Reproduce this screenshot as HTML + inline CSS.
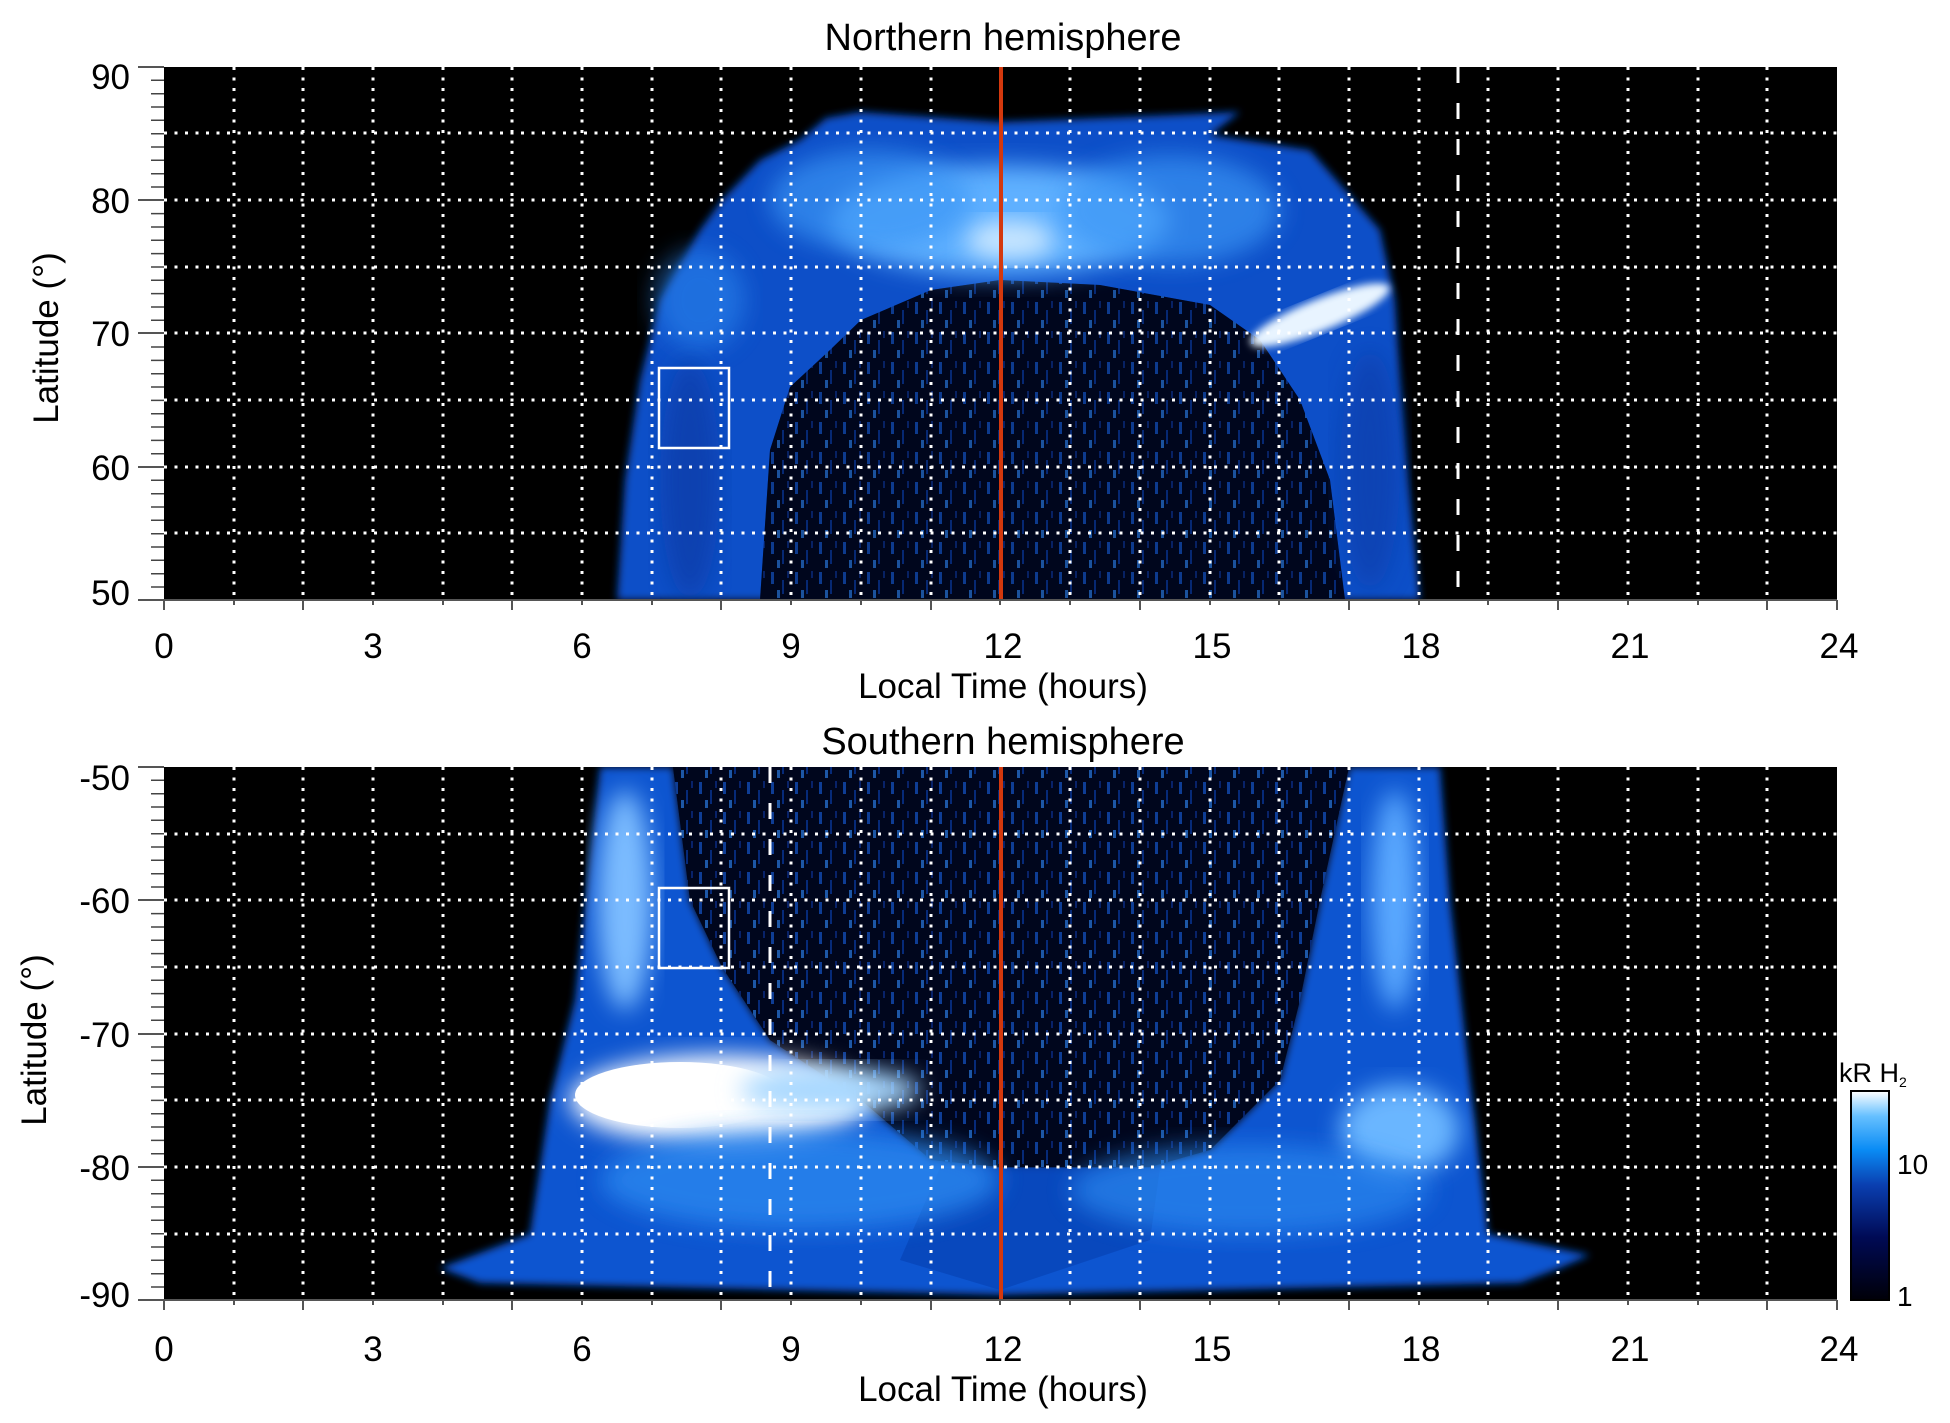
<!DOCTYPE html>
<html><head><meta charset="utf-8"><style>
html,body{margin:0;padding:0;background:#fff}
svg{display:block}
text{font-family:"Liberation Sans",Arial,sans-serif;fill:#000}
</style></head><body>
<svg width="1950" height="1423" viewBox="0 0 1950 1423" xmlns="http://www.w3.org/2000/svg">
<defs>
<filter id="b4" x="-10%" y="-10%" width="120%" height="120%"><feGaussianBlur stdDeviation="4"/></filter>
<filter id="b10" x="-20%" y="-20%" width="140%" height="140%"><feGaussianBlur stdDeviation="12"/></filter>
<linearGradient id="cb" x1="0" y1="1" x2="0" y2="0">
<stop offset="0" stop-color="#000008"/><stop offset="0.3" stop-color="#000a55"/>
<stop offset="0.55" stop-color="#0a3fb0"/><stop offset="0.72" stop-color="#0a8cf5"/>
<stop offset="0.88" stop-color="#66c0ff"/><stop offset="1" stop-color="#ffffff"/>
</linearGradient>
<pattern id="spk" width="24" height="30" patternUnits="userSpaceOnUse">
<rect width="24" height="30" fill="#01061c"/>
<rect x="3" y="2" width="3" height="12" fill="#1555c8"/>
<rect x="14" y="10" width="2" height="14" fill="#0a3aa0"/>
<rect x="9" y="20" width="3" height="8" fill="#2a7ae0"/>
<rect x="19" y="1" width="2" height="7" fill="#0c2f88"/>
</pattern>
</defs>

<!-- ===== TOP PANEL ===== -->
<rect x="164" y="67" width="1673" height="533" fill="#000"/>
<g clip-path="url(#c1)">
<clipPath id="c1"><rect x="164" y="67" width="1673" height="533"/></clipPath>
<path d="M617,600 L625,480 L640,380 L660,300 L700,230 L722,200 L760,160 L800,140 L826,118 L860,112 L1000,122 L1150,116 L1240,112 L1210,135 L1310,150 L1380,230 L1395,300 L1400,380 L1408,480 L1420,600 Z" fill="#0a4fc8" filter="url(#b4)"/>
<path d="M760,600 L770,450 L790,387 L830,350 L861,320 L931,290 L1000,280 L1100,285 L1210,305 L1260,340 L1300,400 L1330,480 L1345,600 Z" fill="url(#spk)"/>
<path d="M760,600 L770,450 L790,387 L830,350 L861,320 L931,290 L1000,280 L1100,285 L1210,305 L1260,340 L1300,400 L1330,480 L1345,600 Z" fill="#000820" opacity="0.35"/>
<ellipse cx="1000" cy="220" rx="170" ry="55" fill="#5fb0ff" filter="url(#b10)"/>
<ellipse cx="1010" cy="240" rx="45" ry="20" fill="#c8e6ff" filter="url(#b10)"/>
<ellipse cx="1320" cy="315" rx="75" ry="16" fill="#e8f4ff" transform="rotate(-22 1320 315)" filter="url(#b4)"/>
<ellipse cx="870" cy="200" rx="100" ry="50" fill="#3a95f5" opacity="0.7" filter="url(#b10)"/>
<ellipse cx="1170" cy="210" rx="110" ry="55" fill="#3a95f5" opacity="0.7" filter="url(#b10)"/>
<ellipse cx="700" cy="300" rx="45" ry="50" fill="#2a85ee" opacity="0.6" filter="url(#b10)"/>
<ellipse cx="690" cy="480" rx="30" ry="120" fill="#0838a0" opacity="0.6" filter="url(#b10)"/>
<ellipse cx="1370" cy="470" rx="30" ry="120" fill="#0838a0" opacity="0.5" filter="url(#b10)"/>
</g>
<g stroke="#fff" stroke-width="3" stroke-dasharray="3,7.5" fill="none">
<path d="M164,133H1837M164,200H1837M164,267H1837M164,333H1837M164,400H1837M164,467H1837M164,533H1837"/>
<path d="M234,67V600M303,67V600M373,67V600M443,67V600M512,67V600M582,67V600M652,67V600M721,67V600M791,67V600M861,67V600M931,67V600M1070,67V600M1140,67V600M1210,67V600M1279,67V600M1349,67V600M1419,67V600M1488,67V600M1558,67V600M1628,67V600M1698,67V600M1767,67V600"/>
</g>
<line x1="1458" y1="67" x2="1458" y2="600" stroke="#fff" stroke-width="3" stroke-dasharray="16,20"/>
<line x1="1001" y1="67" x2="1001" y2="600" stroke="#d4380d" stroke-width="4"/>
<rect x="659" y="368" width="70" height="80" fill="none" stroke="#fff" stroke-width="2.5"/>

<!-- ===== BOTTOM PANEL ===== -->
<rect x="164" y="767" width="1673" height="533" fill="#000"/>
<g clip-path="url(#c2)">
<clipPath id="c2"><rect x="164" y="767" width="1673" height="533"/></clipPath>
<path d="M600,767 L673,767 L690,900 L722,967 L770,1040 L861,1100 L931,1160 L1000,1167 L1150,1167 L1210,1150 L1280,1080 L1300,1000 L1320,900 L1349,767 L1440,767 L1450,900 L1470,1080 L1488,1234 L1590,1255 L1560,1268 L1520,1283 L1000,1295 L480,1283 L440,1268 L530,1234 L550,1100 L575,1000 Z" fill="#0a55d0" filter="url(#b4)"/>
<path d="M673,767 L1349,767 L1320,900 L1300,1000 L1280,1080 L1210,1150 L1150,1167 L1000,1167 L931,1160 L861,1100 L770,1040 L722,967 L690,900 Z" fill="url(#spk)"/>
<path d="M673,767 L1349,767 L1320,900 L1300,1000 L1280,1080 L1210,1150 L1150,1167 L1000,1167 L931,1160 L861,1100 L770,1040 L722,967 L690,900 Z" fill="#000820" opacity="0.3"/>
<path d="M940,1168 L1160,1168 L1150,1240 L1000,1290 L900,1260 Z" fill="#0845b8" opacity="0.8"/>
<ellipse cx="720" cy="1100" rx="150" ry="45" fill="#ffffff" filter="url(#b10)"/>
<ellipse cx="680" cy="1095" rx="105" ry="33" fill="#ffffff"/>
<ellipse cx="830" cy="1090" rx="90" ry="22" fill="#a8d8ff" filter="url(#b10)"/>
<ellipse cx="625" cy="900" rx="28" ry="110" fill="#7bbcff" filter="url(#b10)"/>
<ellipse cx="1400" cy="1130" rx="60" ry="45" fill="#6ab6ff" filter="url(#b10)"/>
<ellipse cx="1395" cy="900" rx="24" ry="110" fill="#5aa8ff" filter="url(#b10)"/>
<ellipse cx="800" cy="1180" rx="200" ry="50" fill="#2a88f0" opacity="0.8" filter="url(#b10)"/>
<ellipse cx="1250" cy="1190" rx="180" ry="45" fill="#2a88f0" opacity="0.7" filter="url(#b10)"/>
</g>
<g stroke="#fff" stroke-width="3" stroke-dasharray="3,7.5" fill="none">
<path d="M164,834H1837M164,900H1837M164,967H1837M164,1034H1837M164,1100H1837M164,1167H1837M164,1234H1837"/>
<path d="M234,767V1300M303,767V1300M373,767V1300M443,767V1300M512,767V1300M582,767V1300M652,767V1300M721,767V1300M791,767V1300M861,767V1300M931,767V1300M1070,767V1300M1140,767V1300M1210,767V1300M1279,767V1300M1349,767V1300M1419,767V1300M1488,767V1300M1558,767V1300M1628,767V1300M1698,767V1300M1767,767V1300"/>
</g>
<line x1="770" y1="767" x2="770" y2="1300" stroke="#fff" stroke-width="3" stroke-dasharray="16,20"/>
<line x1="1001" y1="767" x2="1001" y2="1300" stroke="#d4380d" stroke-width="4"/>
<rect x="659" y="888" width="70" height="80" fill="none" stroke="#fff" stroke-width="2.5"/>

<!-- axes & ticks -->
<g stroke="#555" stroke-width="2">
<line x1="138" y1="67" x2="164" y2="67"/><line x1="138" y1="200" x2="164" y2="200"/><line x1="138" y1="333" x2="164" y2="333"/><line x1="138" y1="467" x2="164" y2="467"/><line x1="138" y1="600" x2="164" y2="600"/>
<line x1="138" y1="767" x2="164" y2="767"/><line x1="138" y1="900" x2="164" y2="900"/><line x1="138" y1="1034" x2="164" y2="1034"/><line x1="138" y1="1167" x2="164" y2="1167"/><line x1="138" y1="1300" x2="164" y2="1300"/>
<line x1="164" y1="600" x2="1837" y2="600"/><line x1="164" y1="1300" x2="1837" y2="1300"/>
</g>
<g stroke="#444" stroke-width="1.5">
<path id="mt" d="M151,80.3h13M151,93.7h13M151,107h13M151,120.3h13M151,133.7h13M151,147h13M151,160.3h13M151,173.7h13M151,187h13"/>
<use href="#mt" y="133.3"/><use href="#mt" y="266.7"/><use href="#mt" y="400"/>
<use href="#mt" y="700"/><use href="#mt" y="833.3"/><use href="#mt" y="966.7"/><use href="#mt" y="1100"/>
</g>
<g stroke="#555" stroke-width="2">
<path id="xt" d="M164,600v10M234,600v5M303,600v10M373,600v5M443,600v5M512,600v10M582,600v5M652,600v5M721,600v10M791,600v5M861,600v5M931,600v10M1000,600v5M1070,600v5M1140,600v10M1210,600v5M1279,600v5M1349,600v10M1419,600v5M1488,600v5M1558,600v10M1628,600v5M1698,600v5M1767,600v10M1837,600v10"/>
<use href="#xt" y="700"/>
</g>

<!-- text -->
<g font-size="38" text-anchor="middle">
<text x="1003" y="50">Northern hemisphere</text>
<text x="1003" y="754">Southern hemisphere</text>
</g>
<g font-size="35" text-anchor="middle">
<text x="1003" y="698">Local Time (hours)</text>
<text x="1003" y="1401">Local Time (hours)</text>
<text transform="translate(58,338) rotate(-90)">Latitude (°)</text>
<text transform="translate(46,1040) rotate(-90)">Latitude (°)</text>
</g>
<g font-size="35" text-anchor="middle">
<text x="164" y="658">0</text><text x="373" y="658">3</text><text x="582" y="658">6</text><text x="791" y="658">9</text><text x="1003" y="658">12</text><text x="1212" y="658">15</text><text x="1421" y="658">18</text><text x="1630" y="658">21</text><text x="1839" y="658">24</text>
<text x="164" y="1361">0</text><text x="373" y="1361">3</text><text x="582" y="1361">6</text><text x="791" y="1361">9</text><text x="1003" y="1361">12</text><text x="1212" y="1361">15</text><text x="1421" y="1361">18</text><text x="1630" y="1361">21</text><text x="1839" y="1361">24</text>
</g>
<g font-size="35" text-anchor="end">
<text x="130" y="89">90</text><text x="130" y="213">80</text><text x="130" y="346">70</text><text x="130" y="480">60</text><text x="130" y="605">50</text>
<text x="130" y="790">-50</text><text x="130" y="913">-60</text><text x="130" y="1047">-70</text><text x="130" y="1180">-80</text><text x="130" y="1307">-90</text>
</g>

<!-- colorbar -->
<rect x="1851" y="1091" width="38" height="209" fill="url(#cb)" stroke="#000" stroke-width="2"/>
<text x="1839" y="1082" font-size="27">kR H<tspan font-size="14" dy="5">2</tspan></text>
<text x="1897" y="1174" font-size="28">10</text>
<text x="1897" y="1306" font-size="28">1</text>
</svg>
</body></html>
